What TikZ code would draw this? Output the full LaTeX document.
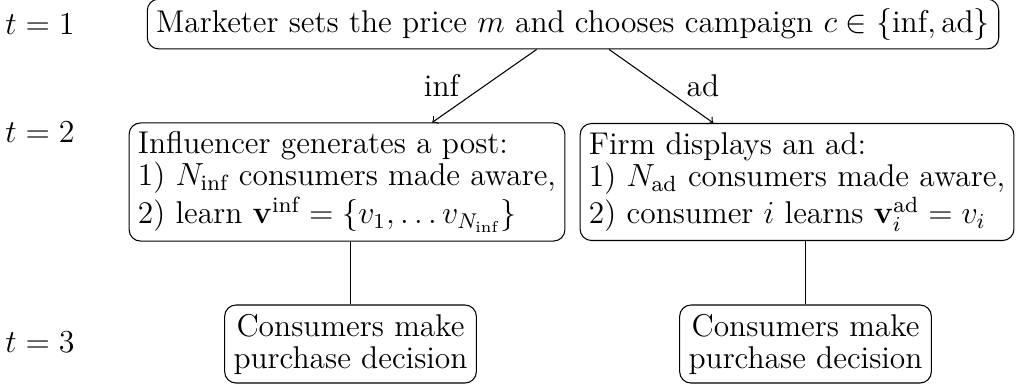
\documentclass[tikz,border=0pt]{standalone}
\usepackage{amsmath}
\usepackage{tikz}
\usetikzlibrary{positioning}
\tikzstyle{timeline} = [x = .375pt, y = -.375pt, every node/.style = {font = \fontsize{11.8}{12}\selectfont}]
\tikzstyle{stageBox} = [draw, rounded corners = .15cm, align = left]
\tikzstyle{periodText} = [anchor = center]
\tikzstyle{choiceLine} = [->]
\newcommand{\infl}{\text{inf}}
\newcommand{\adv}{\text{ad}}
\begin{document}
\begin{tikzpicture}[timeline]
  \useasboundingbox (0,0) rectangle (1018,383);
  % periods
  \node [periodText] (t1) at (40,24) {$t = 1$};
  \node [periodText] (t2) at (40,132) {$t = 2$};
  \node [periodText] (t3) at (40,342) {$t = 3$};

  % marketer
  \node [stageBox] (marketer) at (573,24) {Marketer sets the price $m$ and chooses campaign $c \in \{\infl, \adv\}$};

  % campaigns
  \node [stageBox] (influencer) at (347,182) {Influencer generates a post:\\ 1) $N_{\infl}$ consumers made aware,\\ 2) learn $\mathbf{v}^{\infl} = \{v_1, \dots v_{N_{\infl}}\}$};
  \node [stageBox] (firm) at (797,182) {Firm displays an ad:\\ 1) $N_{\adv}$ consumers made aware,\\ 2) consumer $i$ learns $\mathbf{v}_i^{\adv} = v_i$};

  % purchases
  \node [stageBox, align = center] (buyInf) at (350.5,344) {Consumers make\\ purchase decision};
  \node [stageBox, align = center] (buyAd) at (805.5,344) {Consumers make\\ purchase decision};

  \draw [choiceLine] (marketer) -- node [left = 6pt] {inf} (influencer);
  \draw [choiceLine] (marketer) -- node [right = 6pt] {ad} (firm);
  \draw (influencer.south -| buyInf) -- (buyInf);
  \draw (firm.south -| buyAd) -- (buyAd);
\end{tikzpicture}
\end{document}
